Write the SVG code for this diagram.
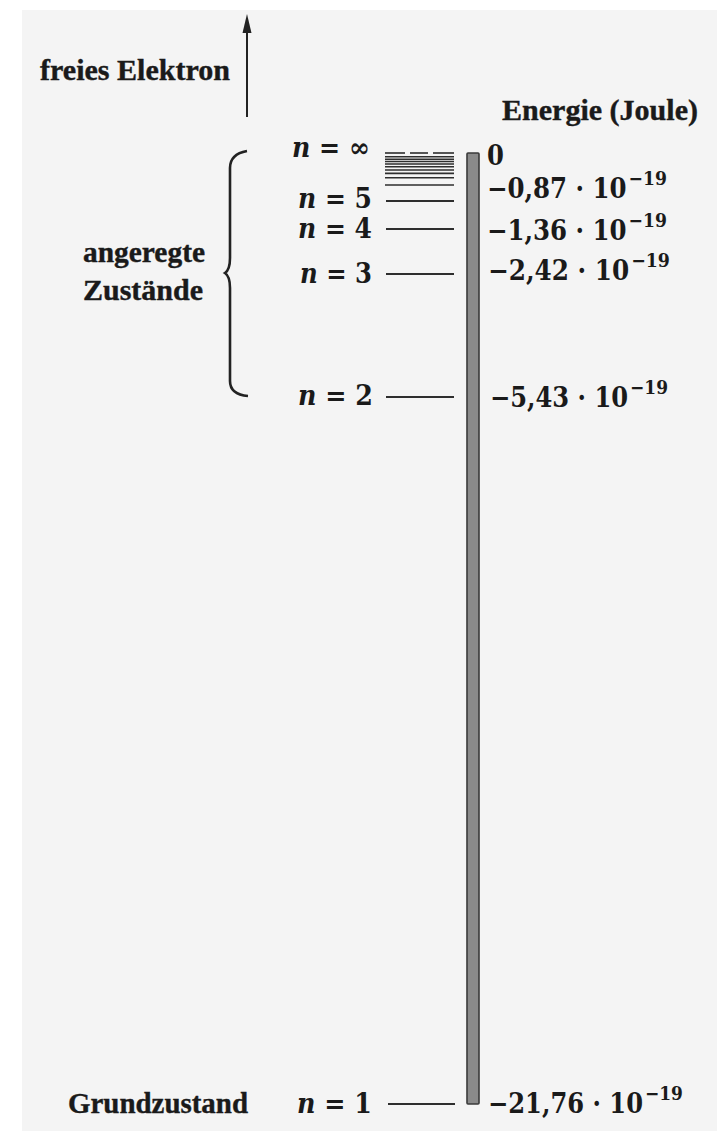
<svg xmlns="http://www.w3.org/2000/svg" width="717" height="1131" viewBox="0 0 717 1131">
  <defs>
    <marker id="arrowhead" viewBox="0 0 20 10" refX="1" refY="5" markerWidth="20" markerHeight="10" markerUnits="userSpaceOnUse" orient="auto">
      <path d="M0,0.5 L19,5 L0,9.5 Z" fill="#222"/>
    </marker>
    <style>
      .title { font-family: "Liberation Serif", "Times New Roman", serif; font-weight: bold; font-size: 30px; fill: #1a1a1a; stroke: #1a1a1a; stroke-width: 0.4; }
      .num { font-family: "DejaVu Serif Condensed", "DejaVu Serif", "Liberation Serif", serif; font-weight: bold; font-size: 27px; fill: #1a1a1a; }
      .sup { font-size: 19px; }
      .nl { font-family: "DejaVu Serif", "Liberation Serif", serif; font-weight: bold; font-size: 27px; fill: #1a1a1a; }
      .it { font-style: italic; }
      .level { stroke: #2e2e2e; stroke-width: 2; fill: none; }
      .fine { stroke: #2e2e2e; stroke-width: 1.6; fill: none; }
      .conn { stroke: #222; stroke-width: 2; fill: none; }
    </style>
  </defs>

  <rect id="page" x="22" y="10" width="695" height="1121" fill="#f4f4f4"/>

  <g id="connectors">
    <line class="conn" x1="247" y1="117" x2="247" y2="32" marker-end="url(#arrowhead)"/>
    <path id="brace" d="M247,151 C236,153 230,158 230,168 L230,258 C230,266 228,271 225,273 C228,275 230,280 230,288 L230,381 C230,390 236,395 248,396" stroke="#222" stroke-width="2.6" fill="none"/>
  </g>

  <g id="free-electron">
    <text class="title" x="40" y="80" textLength="190" lengthAdjust="spacingAndGlyphs">freies Elektron</text>
  </g>

  <g id="energy-title">
    <text class="title" x="502" y="120" textLength="196" lengthAdjust="spacingAndGlyphs">Energie (Joule)</text>
  </g>

  <g id="excited-states">
    <text class="title" x="83" y="262" textLength="122" lengthAdjust="spacingAndGlyphs">angeregte</text>
    <text class="title" x="83" y="300" textLength="120" lengthAdjust="spacingAndGlyphs">Zustände</text>
  </g>

  <g id="ground-state">
    <text class="title" x="68" y="1113" textLength="180" lengthAdjust="spacingAndGlyphs">Grundzustand</text>
  </g>

  <g id="energy-bar">
    <rect x="467" y="153" width="12" height="951" rx="1" fill="#8a8a8a" stroke="#3a3a3a" stroke-width="1.6"/>
  </g>

  <g id="level-inf">
    <text class="nl" x="292" y="157" textLength="78" lengthAdjust="spacingAndGlyphs"><tspan class="it">n</tspan> = ∞</text>
    <line class="fine" x1="385" y1="153" x2="405" y2="153"/>
    <line class="fine" x1="410" y1="153" x2="428" y2="153"/>
    <line class="fine" x1="433" y1="153" x2="454" y2="153"/>
    <line class="fine" x1="385" y1="156.7" x2="454" y2="156.7"/>
    <line class="fine" x1="385" y1="159.2" x2="454" y2="159.2"/>
    <line class="fine" x1="385" y1="161.5" x2="454" y2="161.5"/>
    <line class="fine" x1="385" y1="164" x2="454" y2="164"/>
    <line class="fine" x1="385" y1="166.8" x2="454" y2="166.8"/>
    <line class="fine" x1="385" y1="170" x2="454" y2="170"/>
    <line class="fine" x1="385" y1="173.4" x2="454" y2="173.4"/>
    <line class="fine" x1="385" y1="177.7" x2="454" y2="177.7"/>
    <line class="fine" x1="385" y1="185" x2="454" y2="185"/>
    <text class="num" x="487" y="165">0</text>
  </g>

  <g id="level-5">
    <text class="nl" x="298" y="208" textLength="74" lengthAdjust="spacingAndGlyphs"><tspan class="it">n</tspan> = 5</text>
    <line class="level" x1="386" y1="201" x2="454" y2="201"/>
    <text class="num" x="487" y="198" textLength="180" lengthAdjust="spacingAndGlyphs">−0,87 · 10<tspan class="sup" dx="2" dy="-13">−19</tspan></text>
  </g>

  <g id="level-4">
    <text class="nl" x="298" y="238" textLength="74" lengthAdjust="spacingAndGlyphs"><tspan class="it">n</tspan> = 4</text>
    <line class="level" x1="386" y1="229" x2="454" y2="229"/>
    <text class="num" x="487" y="240" textLength="180" lengthAdjust="spacingAndGlyphs">−1,36 · 10<tspan class="sup" dx="2" dy="-13">−19</tspan></text>
  </g>

  <g id="level-3">
    <text class="nl" x="300" y="283" textLength="72" lengthAdjust="spacingAndGlyphs"><tspan class="it">n</tspan> = 3</text>
    <line class="level" x1="386" y1="274" x2="454" y2="274"/>
    <text class="num" x="488" y="280" textLength="182" lengthAdjust="spacingAndGlyphs">−2,42 · 10<tspan class="sup" dx="2" dy="-13">−19</tspan></text>
  </g>

  <g id="level-2">
    <text class="nl" x="298" y="405" textLength="75" lengthAdjust="spacingAndGlyphs"><tspan class="it">n</tspan> = 2</text>
    <line class="level" x1="386" y1="397" x2="454" y2="397"/>
    <text class="num" x="490" y="407" textLength="178" lengthAdjust="spacingAndGlyphs">−5,43 · 10<tspan class="sup" dx="2" dy="-13">−19</tspan></text>
  </g>

  <g id="level-1">
    <text class="nl" x="297" y="1113" textLength="75" lengthAdjust="spacingAndGlyphs"><tspan class="it">n</tspan> = 1</text>
    <line class="level" x1="388" y1="1104" x2="455" y2="1104"/>
    <text class="num" x="488" y="1113" textLength="195" lengthAdjust="spacingAndGlyphs">−21,76 · 10<tspan class="sup" dx="2" dy="-13">−19</tspan></text>
  </g>
</svg>
